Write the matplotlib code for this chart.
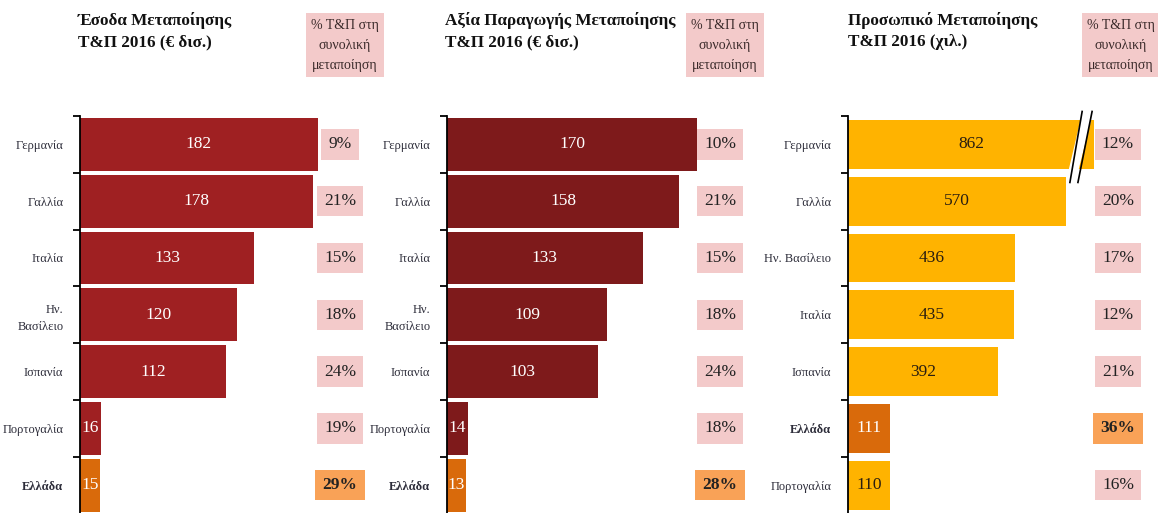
import matplotlib
matplotlib.use("Agg")
import matplotlib.pyplot as plt

plt.rcParams["font.family"] = ["Liberation Serif", "DejaVu Serif"]

# --- data ---
cat_rev = ["Γερμανία", "Γαλλία", "Ιταλία", "Ην.\nΒασίλειο", "Ισπανία", "Πορτογαλία", "Ελλάδα"]
rev = [182, 178, 133, 120, 112, 16, 15]
rev_pct = [9, 21, 15, 18, 24, 19, 29]

cat_prod = ["Γερμανία", "Γαλλία", "Ιταλία", "Ην.\nΒασίλειο", "Ισπανία", "Πορτογαλία", "Ελλάδα"]
prod = [170, 158, 133, 109, 103, 14, 13]
prod_pct = [10, 21, 15, 18, 24, 18, 28]

cat_emp = ["Γερμανία", "Γαλλία", "Ην. Βασίλειο", "Ιταλία", "Ισπανία", "Ελλάδα", "Πορτογαλία"]
emp = [862, 570, 436, 435, 392, 111, 110]
emp_pct = [12, 20, 17, 12, 21, 36, 16]
emp_cap = 643  # Germany bar drawn broken at this value

titles = ["Έσοδα Μεταποίησης\nΤ&Π 2016 (€ δισ.)",
          "Αξία Παραγωγής Μεταποίησης\nΤ&Π 2016 (€ δισ.)",
          "Προσωπικό Μεταποίησης\nΤ&Π 2016 (χιλ.)"]
pct_header = "% Τ&Π στη\nσυνολική\nμεταποίηση"

W, H = 1158, 513
fig = plt.figure(figsize=(W / 100, H / 100), dpi=100)

PINK = "#f3caca"
GR_PCT = "#f9a257"
GR_BAR = "#d96a0b"


def px_axes(left, right, top=116, bottom=517):
    return fig.add_axes([left / W, (H - bottom) / H, (right - left) / W, (bottom - top) / H])


def panel(ax, cats, vals, pcts, color, txtcolor, xmax, pct_x, bar_h, cap=None):
    n = len(cats)
    y = list(range(n))
    shown = [min(v, cap) if cap else v for v in vals]
    greece = cats.index("Ελλάδα")
    colors = [GR_BAR if i == greece else color for i in y]
    ax.barh(y, shown, height=bar_h, color=colors)
    ax.set_xlim(0, xmax)
    ax.set_ylim(n - 0.44, -0.5)
    for s in ["top", "right", "bottom"]:
        ax.spines[s].set_visible(False)
    ax.spines["left"].set_linewidth(1.3)
    ax.set_xticks([])
    ax.set_yticks(y)
    ax.set_yticklabels(cats, fontsize=9, color="#2d2d3a", linespacing=1.5)
    ax.tick_params(axis="y", which="major", length=0, pad=12)
    ax.set_yticks([i - 0.5 for i in range(n)], minor=True)
    ax.tick_params(axis="y", which="minor", length=5, width=1.3)
    ax.get_yticklabels()[greece].set_fontweight("bold")
    for i, (v, s, p) in enumerate(zip(vals, shown, pcts)):
        tc = "white" if i == greece else txtcolor
        ax.text(s / 2, i, str(v), ha="center", va="center", fontsize=12.5, color=tc)
        ax.text(pct_x, i, f"{p}%", transform=ax.get_yaxis_transform(), ha="center",
                va="center", fontsize=12.5, color="#222222",
                fontweight="bold" if i == greece else "normal",
                bbox=dict(boxstyle="square,pad=0.42", fc=GR_PCT if i == greece else PINK,
                          ec="none"), clip_on=False)


ax1 = px_axes(80, 318)
panel(ax1, cat_rev, rev, rev_pct, "#9f2022", "white", 182, (340 - 80) / 238, 0.93)
ax2 = px_axes(447, 697)
panel(ax2, cat_prod, prod, prod_pct, "#7e1a1b", "white", 170, (720 - 447) / 250, 0.93)
ax3 = px_axes(848, 1094)
panel(ax3, cat_emp, emp, emp_pct, "#ffb300", "#2a1e10", emp_cap, (1118 - 848) / 246, 0.86,
      cap=emp_cap)

# break marks on the Germany bar
ax3.fill([emp_cap - 33, emp_cap - 64, emp_cap - 42, emp_cap - 9],
         [-0.44, 0.44, 0.44, -0.44], color="white", zorder=1.5, clip_on=False)
for top_x, bot_x in [(emp_cap - 31, emp_cap - 63), (emp_cap - 5, emp_cap - 42)]:
    ax3.plot([top_x, bot_x], [-0.58, 0.67], color="black", lw=1.2, clip_on=False)

# titles and header boxes
for tx, hx, t in [(78, 345, titles[0]), (445, 725, titles[1]), (848, 1121, titles[2])]:
    fig.text(tx / W, 1 - 12 / H, t, ha="left", va="top", fontsize=12.3, fontweight="bold",
             color="#111111", linespacing=1.45)
    fig.text(hx / W, 1 - 45 / H, pct_header, ha="center", va="center", fontsize=10,
             color="#3a2a2a", linespacing=1.7,
             bbox=dict(boxstyle="square,pad=0.4", fc=PINK, ec="none"))

fig.savefig("out.png", dpi=100)
